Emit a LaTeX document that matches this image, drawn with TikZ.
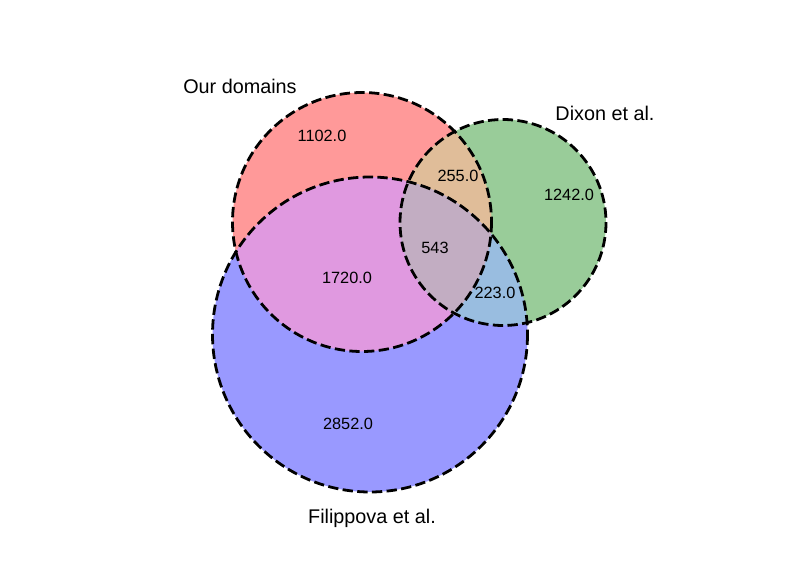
\documentclass[tikz,border=0pt]{standalone}
\usepackage{fontspec}
\setmainfont{Liberation Sans}
\definecolor{cR}{RGB}{255,153,153}
\definecolor{cG}{RGB}{153,204,153}
\definecolor{cB}{RGB}{153,153,255}
\definecolor{cRG}{RGB}{224,189,153}
\definecolor{cRB}{RGB}{224,153,224}
\definecolor{cGB}{RGB}{153,189,224}
\definecolor{cRGB}{RGB}{194,173,194}
\tikzset{
  outline/.style={draw=black, line width=2.78pt, dash pattern=on 10.3pt off 4.4pt},
  num/.style={font=\fontsize{16.3}{19}\selectfont, inner sep=0pt, anchor=center},
  setlabel/.style={font=\fontsize{19.8}{23}\selectfont, inner sep=0pt, anchor=center}
}
\begin{document}
\begin{tikzpicture}[x=1pt,y=-1pt]
\useasboundingbox (0,0) rectangle (798,586);
\def\circR{(362,222) circle[radius=129.5]}
\def\circG{(503,222.5) circle[radius=103]}
\def\circB{(370,334.5) circle[radius=157.5]}
\fill[cR] \circR;
\fill[cG] \circG;
\fill[cB] \circB;
\begin{scope}
  \clip \circR;
  \fill[cRG] \circG;
  \fill[cRB] \circB;
\end{scope}
\begin{scope}
  \clip \circG;
  \fill[cGB] \circB;
\end{scope}
\begin{scope}
  \clip \circR;
  \clip \circG;
  \fill[cRGB] \circB;
\end{scope}
\draw[outline] \circR;
\draw[outline] \circG;
\draw[outline] \circB;
\node[setlabel] (lR) at (240,86) {Our domains};
\node[setlabel] (lG) at (605,113) {Dixon et al.};
\node[setlabel] (lB) at (372,518) {Filippova et al.};
\node[num] (n100) at (322,136) {1102.0};
\node[num] (n110) at (458,176) {255.0};
\node[num] (n010) at (569,195) {1242.0};
\node[num] (n111) at (435,248) {543};
\node[num] (n101) at (347,278) {1720.0};
\node[num] (n011) at (495,293) {223.0};
\node[num] (n001) at (348,424) {2852.0};
\end{tikzpicture}
\end{document}
